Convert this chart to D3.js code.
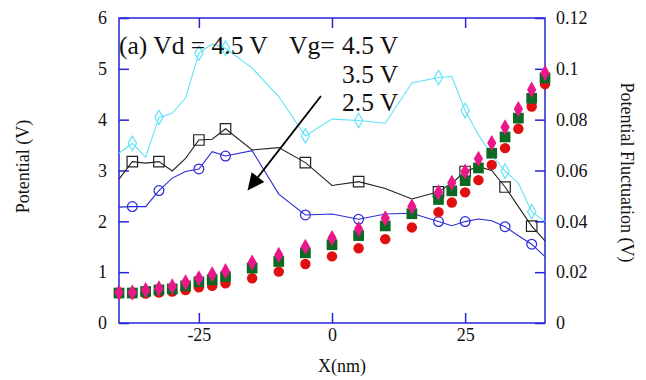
<!DOCTYPE html>
<html>
<head>
<meta charset="utf-8">
<script src="https://cdn.jsdelivr.net/npm/d3@7/dist/d3.min.js"></script>
<style>
  html, body { margin: 0; padding: 0; background: #fff; }
  svg { display: block; font-family: "Liberation Serif", "Times New Roman", serif; }
</style>
</head>
<body>
<svg id="chart" width="646" height="380"></svg>
<script>
// Position along the channel (nm)
const xPositions = [-40, -37.5, -35, -32.5, -30, -27.5, -25, -22.5, -20, -15, -10, -5, 0,
                    5, 10, 15, 20, 22.5, 25, 27.5, 30, 32.5, 35, 37.5, 40];

// Potential (V), left axis
const potentialVg45 = [0.60, 0.60, 0.65, 0.68, 0.72, 0.80, 0.88, 0.96, 1.02, 1.19, 1.34, 1.50, 1.67,
                       1.85, 2.06, 2.29, 2.57, 2.76, 2.98, 3.23, 3.54, 3.85, 4.21, 4.59, 4.92];
const potentialVg35 = [0.59, 0.59, 0.62, 0.65, 0.67, 0.73, 0.81, 0.85, 0.91, 1.08, 1.21, 1.38, 1.54,
                       1.72, 1.91, 2.15, 2.43, 2.60, 2.80, 3.05, 3.34, 3.66, 4.03, 4.42, 4.82];
const potentialVg25 = [0.58, 0.58, 0.58, 0.60, 0.62, 0.65, 0.70, 0.73, 0.78, 0.88, 1.01, 1.16, 1.31,
                       1.47, 1.65, 1.88, 2.18, 2.37, 2.57, 2.81, 3.11, 3.44, 3.82, 4.26, 4.70];

// Potential fluctuation (V), right axis
const fluctVg45 = [0.0668, 0.0707, 0.0652, 0.0809, 0.0825, 0.0885, 0.1062, 0.1098, 0.1081, 0.1003, 0.0891, 0.0736, 0.0802,
                   0.0797, 0.0786, 0.0944, 0.0966, 0.0970, 0.0836, 0.0740, 0.0661, 0.0598, 0.0550, 0.0438, 0.0399];
const fluctVg35 = [0.0566, 0.0635, 0.0629, 0.0635, 0.0598, 0.0648, 0.0720, 0.0723, 0.0764, 0.0681, 0.0690, 0.0631, 0.0541,
                   0.0556, 0.0529, 0.0488, 0.0516, 0.0550, 0.0596, 0.0615, 0.0600, 0.0535, 0.0458, 0.0381, 0.0323];
const fluctVg25 = [0.0456, 0.0458, 0.0458, 0.0521, 0.0570, 0.0596, 0.0606, 0.0674, 0.0657, 0.0678, 0.0507, 0.0425, 0.0429,
                   0.0408, 0.0429, 0.0432, 0.0399, 0.0383, 0.0399, 0.0409, 0.0402, 0.0379, 0.0343, 0.0310, 0.0261];

// Positions carrying open symbols on the fluctuation curves
const fluctMarkerX = [-37.5, -32.5, -25, -20, -5, 5, 20, 25, 32.5, 37.5];

// Tick labels
const xTicks = [-25, 0, 25];
const leftTicks = [0, 1, 2, 3, 4, 5, 6];
const rightTicks = [0, 0.02, 0.04, 0.06, 0.08, 0.1, 0.12];
const gateLabels = ["4.5 V", "3.5 V", "2.5 V"];

const svg = d3.select("#chart");
const margin = { top: 18, right: 101, bottom: 57, left: 119 };
const W = 646, H = 380;
const iw = W - margin.left - margin.right;
const ih = H - margin.top - margin.bottom;

const x = d3.scaleLinear().domain([-40, 40]).range([margin.left, margin.left + iw]);
const yL = d3.scaleLinear().domain([0, 6]).range([margin.top + ih, margin.top]);
const yR = d3.scaleLinear().domain([0, 0.12]).range([margin.top + ih, margin.top]);

const axisColor = "#2424d8";
const fontSize = 18;

// Frame
svg.append("rect")
  .attr("x", margin.left).attr("y", margin.top)
  .attr("width", iw).attr("height", ih)
  .attr("fill", "none").attr("stroke", axisColor).attr("stroke-width", 1.5);

function styleAxis(g) {
  g.select(".domain").remove();
  g.selectAll(".tick line").attr("stroke", axisColor).attr("stroke-width", 1.5);
  g.selectAll(".tick text").attr("fill", "#111").attr("font-size", fontSize)
    .attr("font-family", "Liberation Serif, Times New Roman, serif");
}

const fmtInt = d => String(d);
svg.append("g").attr("transform", `translate(${margin.left},0)`)
  .call(d3.axisLeft(yL).tickValues(leftTicks).tickFormat(fmtInt).tickSizeInner(-10).tickSizeOuter(0).tickPadding(12))
  .call(styleAxis);

const fmtR = d => d === 0 ? "0" : String(+d.toFixed(2));
svg.append("g").attr("transform", `translate(${margin.left + iw},0)`)
  .call(d3.axisRight(yR).tickValues(rightTicks).tickFormat(fmtR).tickSizeInner(-10).tickSizeOuter(0).tickPadding(11))
  .call(styleAxis);

svg.append("g").attr("transform", `translate(0,${margin.top + ih})`)
  .call(d3.axisBottom(x).tickValues(xTicks).tickFormat(fmtInt).tickSizeInner(-10).tickSizeOuter(0).tickPadding(5))
  .call(styleAxis);

svg.append("g").attr("transform", `translate(0,${margin.top})`)
  .call(d3.axisTop(x).tickValues(xTicks).tickFormat("").tickSizeInner(-10).tickSizeOuter(0))
  .call(styleAxis);

// Axis titles
svg.append("text")
  .attr("transform", `translate(29,${margin.top + ih / 2 - 4}) rotate(-90)`)
  .attr("text-anchor", "middle").attr("font-size", fontSize).attr("fill", "#111")
  .text("Potential (V)");

svg.append("text")
  .attr("transform", `translate(621,${margin.top + ih / 2 + 2}) rotate(90)`)
  .attr("text-anchor", "middle").attr("font-size", fontSize).attr("fill", "#111")
  .text("Potential Fluctuation (V)");

svg.append("text")
  .attr("x", x(0) + 10).attr("y", 372)
  .attr("text-anchor", "middle").attr("font-size", fontSize).attr("fill", "#111")
  .text("X(nm)");

// Fluctuation curves (right axis) with open symbols
const fluctSeries = [
  { values: fluctVg45, color: "#5fe3f7", symbol: d3.symbolDiamond, size: 60 },
  { values: fluctVg35, color: "#222222", symbol: d3.symbolSquare, size: 110 },
  { values: fluctVg25, color: "#2a2ad6", symbol: d3.symbolCircle, size: 75 }
];

const line = d3.line().x(d => x(d[0])).y(d => yR(d[1]));

fluctSeries.forEach(s => {
  const pts = xPositions.map((xv, i) => [xv, s.values[i]]);
  svg.append("path")
    .datum(pts)
    .attr("d", line)
    .attr("fill", "none").attr("stroke", s.color).attr("stroke-width", 1.1);
  const sym = d3.symbol().type(s.symbol).size(s.size);
  svg.append("g").selectAll("path")
    .data(pts.filter(p => fluctMarkerX.includes(p[0])))
    .join("path")
    .attr("transform", d => `translate(${x(d[0])},${yR(d[1])})`)
    .attr("d", sym)
    .attr("fill", "none").attr("stroke", s.color).attr("stroke-width", 1.2);
});

// Potential profiles (left axis), filled symbols
const potSeries = [
  { values: potentialVg25, color: "#e01010", symbol: d3.symbolCircle, size: 85 },
  { values: potentialVg35, color: "#0b6a22", symbol: d3.symbolSquare, size: 115 },
  { values: potentialVg45, color: "#ea168a", symbol: d3.symbolDiamond, size: 75 }
];

potSeries.forEach(s => {
  const sym = d3.symbol().type(s.symbol).size(s.size);
  svg.append("g").selectAll("path")
    .data(xPositions.map((xv, i) => [xv, s.values[i]]))
    .join("path")
    .attr("transform", d => `translate(${x(d[0])},${yL(d[1])})`)
    .attr("d", sym)
    .attr("fill", s.color);
});

// Annotation
const annot = svg.append("g").attr("font-size", 25.5).attr("fill", "#111");
annot.append("text").attr("x", 119).attr("y", 54).text("(a) Vd = 4.5 V");
annot.append("text").attr("x", 289).attr("y", 54).text("Vg=");
gateLabels.forEach((t, i) => {
  annot.append("text").attr("x", 342).attr("y", 54 + i * 28.5).text(t);
});

// Arrow
const ax0 = 321, ay0 = 96, ax1 = 247.5, ay1 = 190.5;
const ang = Math.atan2(ay1 - ay0, ax1 - ax0);
const hl = 17, hw = 8;
const bx = ax1 - hl * Math.cos(ang), by = ay1 - hl * Math.sin(ang);
svg.append("line")
  .attr("x1", ax0).attr("y1", ay0).attr("x2", bx).attr("y2", by)
  .attr("stroke", "#000").attr("stroke-width", 1.8);
svg.append("path")
  .attr("d", `M${ax1},${ay1} L${bx - hw * Math.sin(ang)},${by + hw * Math.cos(ang)} L${bx + hw * Math.sin(ang)},${by - hw * Math.cos(ang)} Z`)
  .attr("fill", "#000");
</script>
</body>
</html>
